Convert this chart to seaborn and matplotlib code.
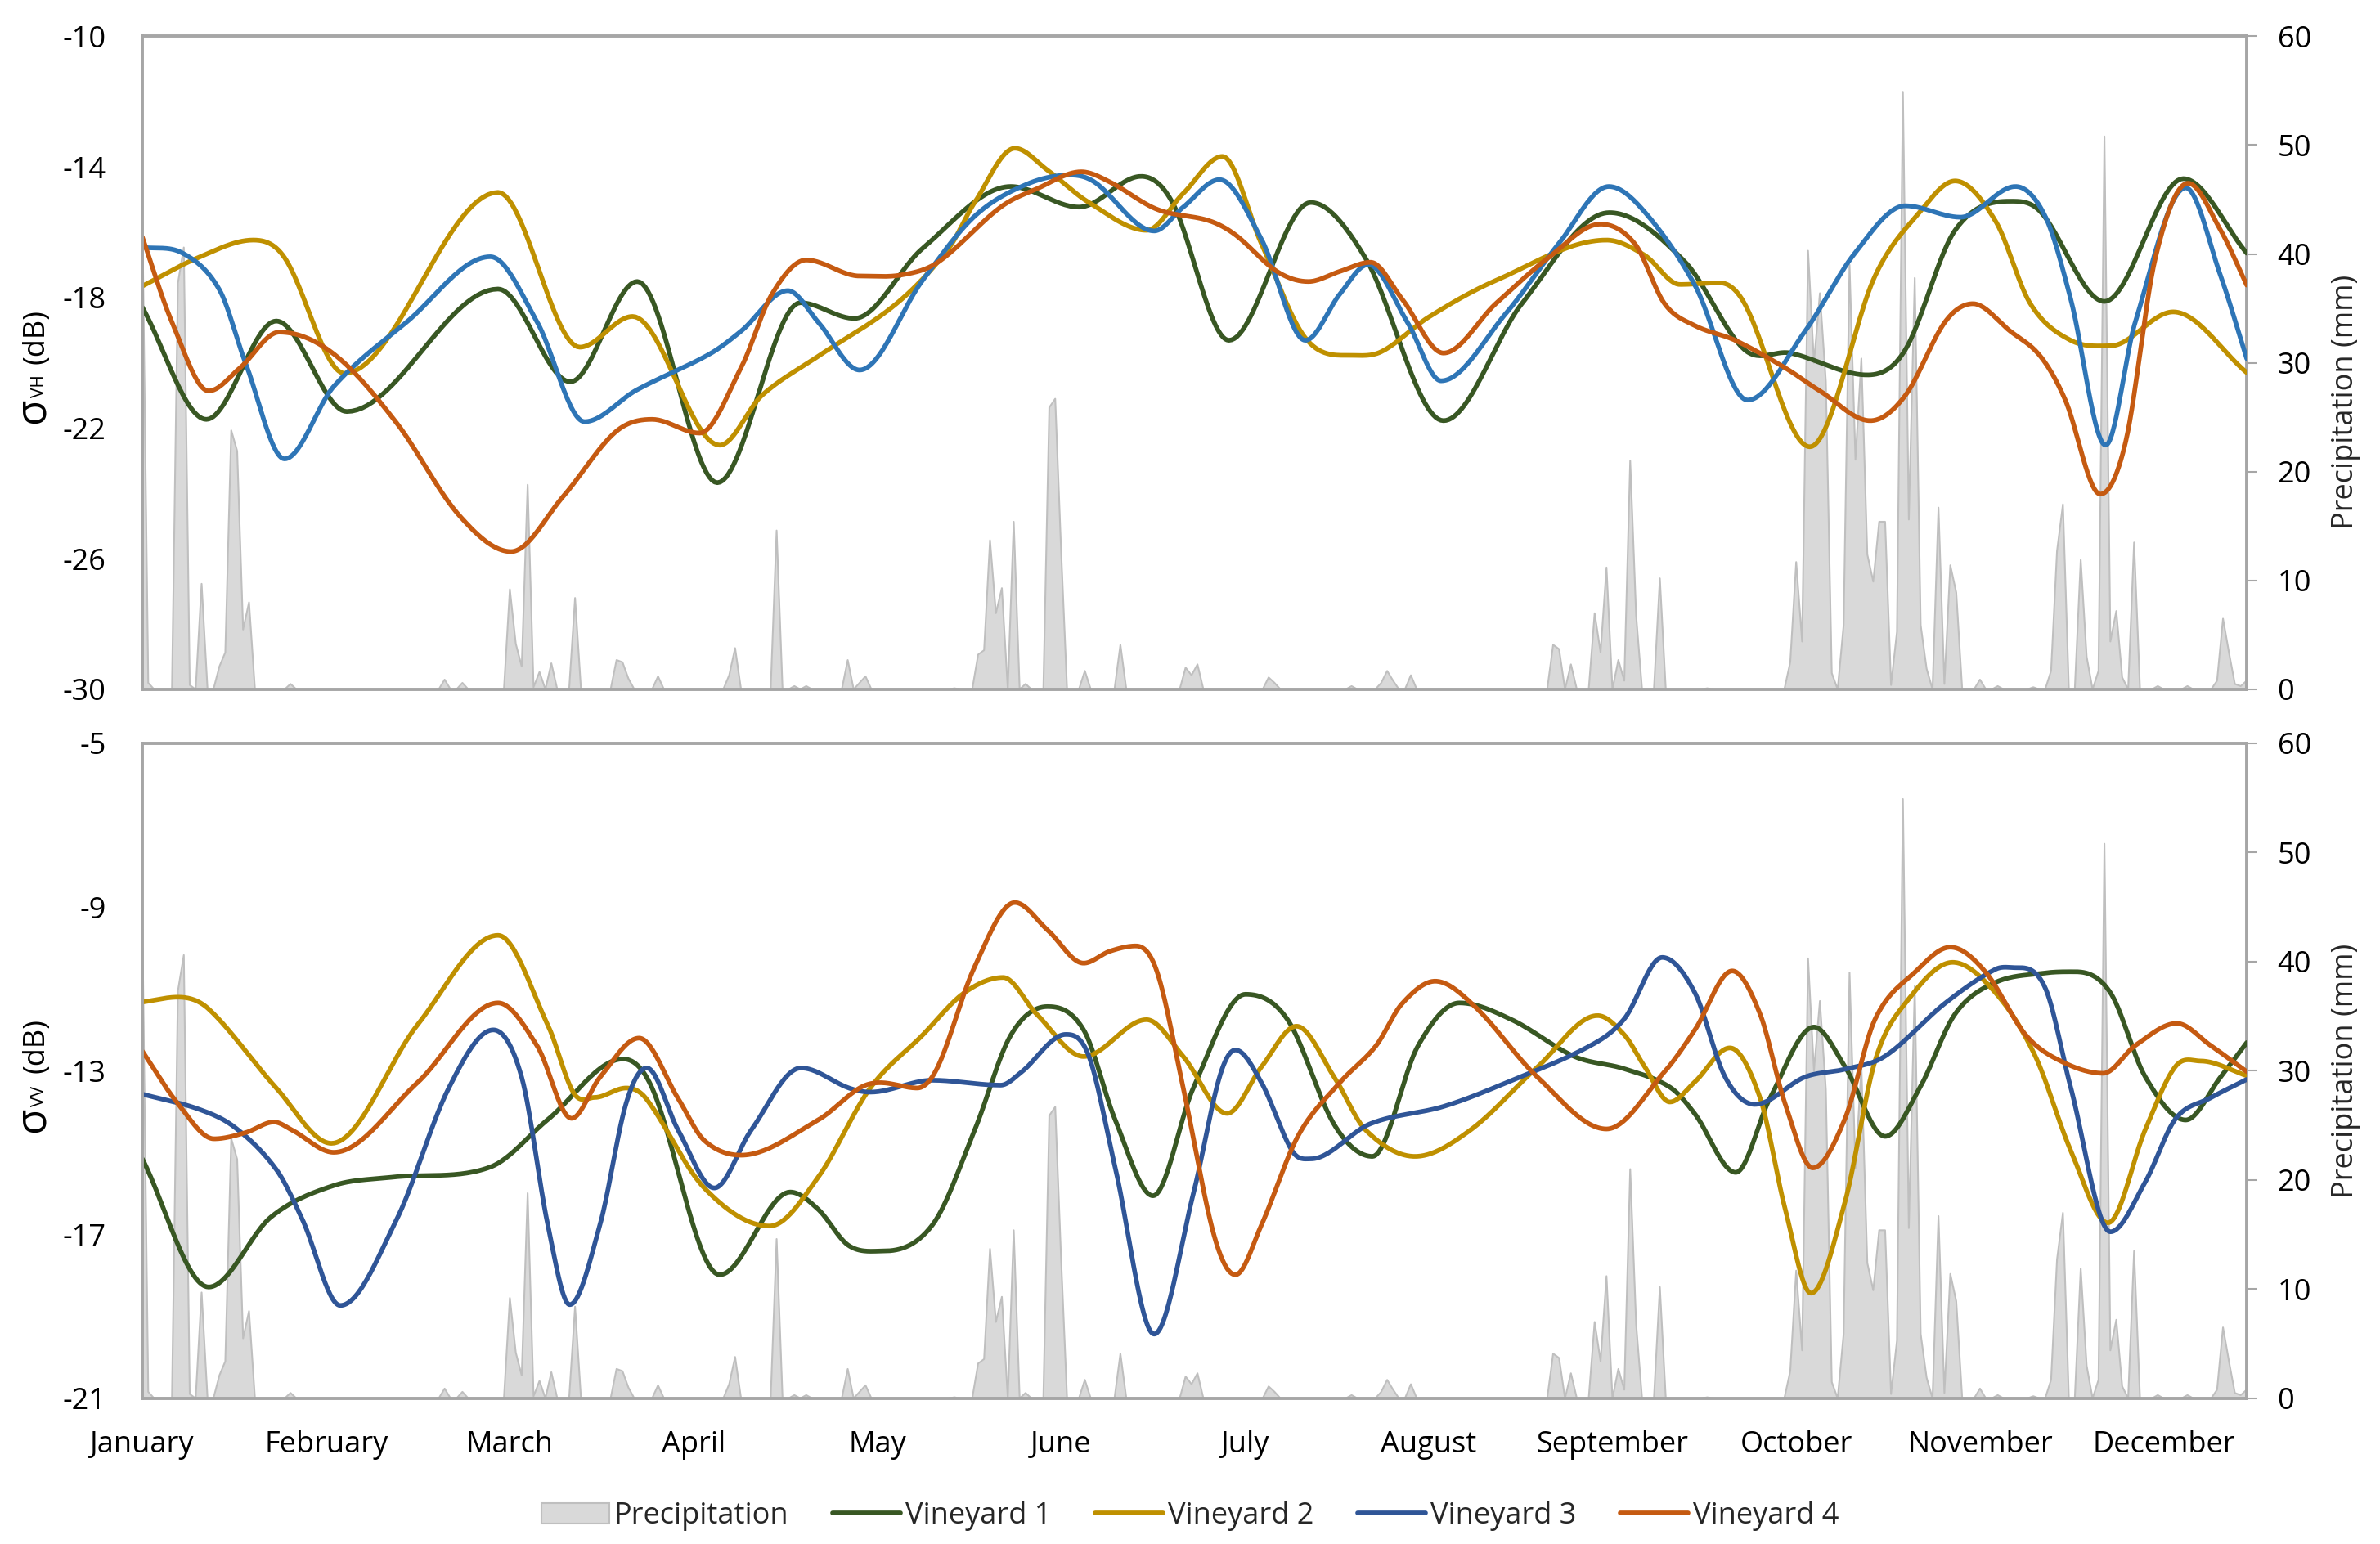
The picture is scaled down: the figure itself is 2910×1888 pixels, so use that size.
import numpy as np
import pandas as pd
import seaborn as sns
import matplotlib.pyplot as plt
from matplotlib.patches import Patch
from matplotlib.lines import Line2D

months = ['January', 'February', 'March', 'April', 'May', 'June', 'July',
          'August', 'September', 'October', 'November', 'December']
month_pos = [0, 31, 62, 93, 124, 155, 186, 217, 248, 279, 310, 341]
n_days = 356

# daily precipitation (mm), days without rain are zero
rain_days = [0, 1, 6, 7, 8, 10, 13, 14, 15, 16, 17, 18, 25, 51, 54,
             62, 63, 64, 65, 66, 67, 69, 73, 80, 81, 82, 87, 99, 100, 107, 110, 112,
             119, 121, 122, 137, 141, 142, 143, 144, 145, 147, 149, 153, 154, 155,
             159, 165, 176, 177, 178, 190, 191, 204, 209, 210, 211, 214,
             238, 239, 241, 245, 246, 247, 249, 250, 251, 252, 256, 264,
             278, 279, 280, 281, 282, 283, 284, 285, 287, 288, 289, 290, 291, 292, 293, 294, 295,
             296, 297, 298, 299, 300, 301, 303, 304, 305, 306, 310, 313, 319,
             322, 323, 324, 327, 328, 330, 331, 332, 333, 334, 336, 340, 345,
             350, 351, 352, 353, 354, 355]
rain_mm = [44.0, 0.6, 37.3, 40.6, 0.4, 9.7, 2.1, 3.4, 23.8, 21.9, 5.5, 8.0, 0.5, 0.9, 0.6,
           9.2, 4.2, 2.1, 18.8, 0.2, 1.6, 2.4, 8.4, 2.7, 2.5, 1.0, 1.2, 1.3, 3.8, 14.6, 0.3, 0.3,
           2.7, 0.6, 1.2, 0.1, 3.2, 3.6, 13.7, 7.0, 9.3, 15.4, 0.5, 25.9, 26.7, 12.7,
           1.7, 4.1, 2.0, 1.3, 2.3, 1.1, 0.6, 0.3, 0.6, 1.7, 0.8, 1.3,
           4.1, 3.7, 2.3, 7.0, 3.4, 11.2, 2.7, 0.8, 21.0, 6.8, 10.2, 0.1,
           2.5, 11.7, 4.4, 40.3, 30.0, 36.4, 28.3, 1.5, 5.9, 39.0, 21.1, 30.4, 12.4, 9.9, 15.4, 15.4, 0.4,
           5.3, 54.9, 15.6, 37.8, 5.9, 1.9, 16.7, 0.5, 11.4, 8.9, 0.9, 0.3, 0.2,
           1.7, 12.7, 17.0, 11.9, 3.0, 1.7, 50.8, 4.4, 7.2, 1.1, 13.5, 0.3, 0.3,
           0.8, 6.5, 3.4, 0.5, 0.3, 0.8]

# sigma VH (dB), read at turning points of each curve
vh1_days = [0, 10.8, 22.6, 34.5, 60, 72.2, 83.5, 97, 111, 120.1, 131.6, 146.5, 158, 168.5,
            173.8, 183.3, 197.1, 206.3, 219.5, 232.7, 247.5, 260.2, 270.3, 278, 291, 297.4,
            305.8, 315.1, 320.2, 331, 344.3, 355]
vh1 = [-18.3, -21.73, -18.72, -21.49, -17.74, -20.58, -17.51, -23.67, -18.16, -18.64, -16.5,
       -14.6, -15.23, -14.29, -15.1, -19.31, -15.09, -16.78, -21.77, -18.19, -15.4, -16.9,
       -19.6, -19.7, -20.37, -19.6, -15.94, -15.05, -15.37, -18.12, -14.36, -16.64]

vh2_days = [0, 9.4, 18.7, 24, 34.1, 60, 73.8, 82.7, 97.4, 104.5, 114, 127.2, 136, 140.4,
            147.2, 152.7, 159.7, 169.4, 175.6, 182.2, 188.8, 196.2, 203.7, 209, 217, 228.3,
            247, 253.4, 259.4, 266.1, 270.3, 281.3, 292.3, 299.9, 305.8, 312.6, 318.5, 325.3,
            332, 342.6, 355]
vh2 = [-17.65, -16.78, -16.24, -16.78, -20.32, -14.78, -19.52, -18.58, -22.52, -21.0, -19.8,
       -18.19, -16.5, -15.09, -13.43, -14.1, -15.09, -15.94, -14.81, -13.68, -16.36, -19.24,
       -19.77, -19.66, -18.6, -17.48, -16.24, -16.7, -17.6, -17.55, -18.19, -22.57, -17.34,
       -15.37, -14.43, -15.65, -18.19, -19.31, -19.48, -18.44, -20.3]

vh3_days = [0, 6.8, 13, 17.4, 24, 32.3, 44.6, 58.7, 66.6, 74.6, 83.4, 95.7, 101, 108.9, 114,
            121, 131.6, 140.4, 149.2, 156.6, 160.6, 170.7, 175.6, 181.7, 188.8, 196.2, 202,
            206.8, 213.4, 219.1, 230.1, 238.9, 247.4, 253.4, 261.9, 270.8, 280.5, 288.9,
            297.4, 306.7, 316, 321, 325.3, 331.2, 336.2, 344.7, 350.6, 355]
vh3 = [-16.46, -16.64, -17.76, -20.0, -22.94, -20.72, -18.75, -16.75, -18.75, -21.8, -20.83,
       -19.73, -19.03, -17.79, -18.75, -20.22, -17.48, -15.51, -14.53, -14.25, -14.46, -15.96,
       -15.23, -14.39, -16.22, -19.31, -17.9, -16.99, -18.75, -20.55, -18.47, -16.36, -14.6,
       -15.37, -17.62, -21.14, -19.03, -16.64, -15.19, -15.54, -14.6, -15.51, -18.04, -22.52,
       -18.75, -14.64, -17.34, -19.87]

vh4_days = [0, 5, 11.2, 16.5, 23.1, 32.3, 42.9, 53.4, 62.2, 71, 79.8, 86, 94, 101, 106.2, 112,
            121, 128, 134.2, 144.8, 150.9, 158.4, 163.2, 171.2, 180, 184.4, 191.4, 196.7, 202,
            207.2, 212.5, 219.5, 228.3, 237.2, 246, 251.8, 256.8, 261.9, 268.7, 277.1, 283,
            291.5, 297.4, 304.1, 308.8, 315.1, 320.2, 324.4, 330.3, 334.6, 339.6, 345.1,
            350.6, 355]
vh4 = [-16.15, -18.75, -20.86, -20.15, -19.06, -19.73, -21.84, -24.66, -25.78, -24.09, -22.12,
       -21.73, -22.15, -20.15, -17.9, -16.85, -17.34, -17.31, -16.92, -15.23, -14.67, -14.15,
       -14.46, -15.3, -15.65, -16.08, -17.2, -17.51, -17.2, -16.92, -18.04, -19.7, -18.19,
       -16.78, -15.75, -16.36, -18.19, -18.86, -19.31, -20.15, -20.86, -21.77, -21.0, -18.75,
       -18.19, -19.03, -19.8, -21.14, -24.02, -22.4, -16.78, -14.5, -15.94, -17.62]

# sigma VV (dB)
vv1_days = [0, 11.2, 21.7, 32.3, 42, 58.7, 68.4, 81.1, 86, 97.4, 109.3, 114, 119.2, 125,
            133.3, 140.4, 146.5, 152.7, 158.8, 164.1, 170.5, 177.3, 186.1, 193.2, 201.1,
            207.5, 215.2, 222.2, 231, 241.6, 250, 257.7, 261.9, 268.8, 274.6, 282, 287.2, 294,
            299.9, 305.8, 312.6, 321, 326.1, 332, 337.9, 344.7, 350.6, 355]
vv1 = [-15.15, -18.28, -16.57, -15.8, -15.6, -15.35, -14.19, -12.71, -13.42, -17.98, -15.96,
       -16.38, -17.27, -17.4, -16.76, -14.45, -12.13, -11.43, -12.0, -14.19, -16.05, -13.42,
       -11.13, -11.75, -14.32, -15.09, -12.39, -11.34, -11.75, -12.65, -12.95, -13.4, -14.05,
       -15.48, -13.66, -11.93, -12.89, -14.6, -13.4, -11.61, -10.84, -10.61, -10.58, -11.09,
       -13.15, -14.2, -13.15, -12.31]

vv2_days = [0, 6, 11.2, 22.6, 31.9, 46.4, 60, 68.4, 72.8, 76.3, 81.6, 85, 94.8, 105.8, 114,
            122.8, 131.6, 138.6, 145.2, 150.9, 158.8, 169.4, 175.6, 183, 188.8, 194.7, 201.1,
            206.4, 214.7, 224, 235.4, 245.5, 250, 253.4, 257.7, 261.9, 267.8, 272.9, 277.1,
            281.5, 287.2, 292.3, 297.4, 305.4, 312.6, 319.3, 325.3, 331.6, 337.9, 343, 347.2, 355]
vv2 = [-11.32, -11.2, -11.49, -13.42, -14.77, -11.88, -9.69, -11.88, -13.55, -13.65, -13.42,
       -13.68, -15.86, -16.79, -15.6, -13.42, -12.13, -11.1, -10.72, -11.62, -12.65, -11.75,
       -12.65, -14.04, -12.9, -11.91, -13.16, -14.45, -15.09, -14.45, -12.9, -11.65, -12.12,
       -12.89, -13.76, -13.27, -12.44, -13.66, -16.35, -18.43, -16.22, -12.76, -11.35,
       -10.35, -11.09, -12.63, -14.94, -16.71, -14.43, -12.89, -12.76, -13.12]

vv3_days = [0, 9.4, 15.6, 22.6, 27, 33.4, 42.9, 51.7, 59.2, 64, 68.4, 72.1, 77.2, 81.6, 85.1,
            90.4, 96.5, 102.7, 111.1, 119.2, 122.8, 133.3, 144.8, 148.3, 155.8, 159.7, 164.1,
            170.7, 177.3, 181.7, 184.4, 188.8, 194, 197.1, 207.2, 219.5, 230.1, 244.2, 250,
            256.4, 261.9, 267, 272, 280.5, 287.2, 294, 304.1, 312.6, 316, 321, 325.3, 332,
            337.9, 343, 348.9, 355]
vv3 = [-13.57, -13.93, -14.38, -15.41, -16.63, -18.73, -16.63, -13.42, -12.0, -13.16, -16.76,
       -18.71, -16.76, -13.8, -12.93, -14.45, -15.86, -14.45, -12.93, -13.42, -13.52, -13.23,
       -13.35, -13.03, -12.11, -12.65, -15.35, -19.43, -16.0, -13.16, -12.49, -13.29, -14.96,
       -15.15, -14.29, -13.87, -13.29, -12.39, -11.73, -10.23, -11.09, -13.15, -13.82,
       -13.15, -12.96, -12.64, -11.35, -10.52, -10.48, -10.97, -13.4, -16.93, -15.71,
       -14.17, -13.66, -13.21]

vv4_days = [0, 6, 12.1, 17.4, 22.2, 25.3, 32.3, 46.4, 60, 66.6, 72.4, 77.2, 83.8, 90.4, 94.8,
            101, 114, 121, 124.5, 130.7, 134.2, 140.4, 147.2, 152.7, 158.8, 163.2, 167.6,
            171.2, 175.6, 180.8, 184.4, 188.8, 195, 202, 208.1, 212.5, 218.1, 224.8, 235.4,
            247, 256.8, 261.9, 268.2, 272.9, 277.1, 281.8, 287.2, 292.3, 299.1, 305, 310.9,
            317.7, 323.6, 330.8, 336.2, 343.2, 348.9, 355]
vv4 = [-12.52, -13.8, -14.66, -14.51, -14.25, -14.45, -14.99, -13.29, -11.34, -12.39, -14.16,
       -13.16, -12.2, -13.68, -14.7, -15.06, -14.2, -13.42, -13.29, -13.42, -12.9, -10.46,
       -8.89, -9.56, -10.37, -10.08, -9.95, -10.59, -13.42, -17.02, -17.98, -16.76, -14.58,
       -13.29, -12.39, -11.36, -10.81, -11.43, -13.16, -14.42, -13.02, -12.0, -10.56,
       -11.61, -13.79, -15.37, -14.18, -11.74, -10.58, -9.98, -10.58, -12.12, -12.76,
       -13.06, -12.38, -11.84, -12.38, -13.02]

names = ['Vineyard 1', 'Vineyard 2', 'Vineyard 3', 'Vineyard 4']
green, gold, orange = '#385723', '#BF9000', '#C55A11'
blue_vh, blue_vv = '#2E75B6', '#2F5597'
grid_grey = '#A6A6A6'
FS = 26
LW = 4.1


def smooth(xs, ys, n=30):
    # Excel-like smoothed line: cubic Hermite through the read points
    xs = np.asarray(xs, float)
    ys = np.asarray(ys, float)
    m = np.zeros_like(ys)
    m[1:-1] = (ys[2:] - ys[:-2]) / (xs[2:] - xs[:-2])
    m[0] = (ys[1] - ys[0]) / (xs[1] - xs[0])
    m[-1] = (ys[-1] - ys[-2]) / (xs[-1] - xs[-2])
    turn = (ys[1:-1] - ys[:-2]) * (ys[2:] - ys[1:-1]) <= 0
    m[1:-1][turn] = 0
    out_x, out_y = [], []
    for i in range(len(xs) - 1):
        h = xs[i + 1] - xs[i]
        t = np.linspace(0, 1, n, endpoint=False)
        h00 = 2 * t**3 - 3 * t**2 + 1
        h10 = t**3 - 2 * t**2 + t
        h01 = -2 * t**3 + 3 * t**2
        h11 = t**3 - t**2
        out_x.append(xs[i] + t * h)
        out_y.append(h00 * ys[i] + h10 * h * m[i] + h01 * ys[i + 1] + h11 * h * m[i + 1])
    out_x.append([xs[-1]])
    out_y.append([ys[-1]])
    return np.concatenate(out_x), np.concatenate(out_y)


def sigma_label(fig, pol, y_bottom_px):
    # big sigma, small polarisation letters, then "(dB)", stacked upwards
    W, H = 2910, 1888
    x = 53.5 / W
    parts = [('σ', 37, 0), (pol, 15, 32), ('(dB)', FS, 73)]
    for s, size, off in parts:
        fig.text(x, (H - y_bottom_px + off) / H, s, fontsize=size, rotation=90,
                 rotation_mode='anchor', ha='left', va='baseline', color='black')


sns.set_theme(style='white')
plt.rcParams['font.family'] = ['Open Sans', 'DejaVu Sans']
plt.rcParams['axes.unicode_minus'] = False

precip = np.zeros(n_days)
precip[rain_days] = rain_mm
precip_df = pd.DataFrame({'day': np.arange(n_days), 'mm': precip})

fig = plt.figure(figsize=(29.1, 18.88), dpi=100)
ax_top = fig.add_axes([0.0598, 0.5535, 0.8842, 0.4230])
ax_bot = fig.add_axes([0.0598, 0.0943, 0.8842, 0.4243])

panels = [
    (ax_top, [(vh1_days, vh1), (vh2_days, vh2), (vh3_days, vh3), (vh4_days, vh4)],
     [green, gold, blue_vh, orange], (-30, -10), 'VH', 518, 0.44),
    (ax_bot, [(vv1_days, vv1), (vv2_days, vv2), (vv3_days, vv3), (vv4_days, vv4)],
     [green, gold, blue_vv, orange], (-21, -5), 'VV', 1385, 0.5),
]

for ax, series, colors, ylim, pol, lab_px, rlab_y in panels:
    ax2 = ax.twinx()
    ax2.fill_between(precip_df['day'], 0, precip_df['mm'], color='#D9D9D9', lw=0)
    sns.lineplot(data=precip_df, x='day', y='mm', ax=ax2, color='#BFBFBF', lw=1.5,
                 estimator=None)
    ax2.set_ylim(0, 60)
    ax2.set_yticks(range(0, 61, 10))
    ax2.set_ylabel('Precipitation (mm)', fontsize=FS)
    ax2.yaxis.set_label_coords(1.040, rlab_y)
    ax2.tick_params(axis='y', right=True, length=9, width=1.5, color=grid_grey,
                    labelsize=FS, pad=18, labelcolor='black')
    for s in ['left', 'top', 'bottom']:
        ax2.spines[s].set_visible(False)
    ax2.spines['right'].set_color(grid_grey)
    ax2.spines['right'].set_linewidth(2.8)

    ax.set_zorder(ax2.get_zorder() + 1)
    ax.patch.set_visible(False)
    for (d, v), c in zip(series, colors):
        sx, sy = smooth(d, v)
        sns.lineplot(x=sx, y=sy, ax=ax, color=c, lw=LW, estimator=None, sort=False)
    ax.set_ylim(*ylim)
    ax.set_yticks(np.arange(ylim[0], ylim[1] + 1, 4))
    ax.set_xlim(0, n_days - 1)
    ax.set_ylabel('')
    sigma_label(fig, pol, lab_px)
    ax.tick_params(axis='y', left=False, labelsize=FS, pad=26, labelcolor='black')
    ax.spines['right'].set_visible(False)
    for s in ['left', 'top', 'bottom']:
        ax.spines[s].set_color(grid_grey)
        ax.spines[s].set_linewidth(2.8)
    ax.set_xlabel('')
    ax.set_xticks(month_pos)
    if ax is ax_bot:
        ax.set_xticklabels(months, fontsize=FS)
        ax.tick_params(axis='x', bottom=False, pad=22, labelcolor='black')
    else:
        ax.set_xticklabels([])
        ax.tick_params(axis='x', bottom=False)

handles = [Patch(facecolor='#D9D9D9', edgecolor='#BFBFBF', lw=1.5)]
handles += [Line2D([], [], color=c, lw=LW) for c in [green, gold, blue_vv, orange]]
fig.legend(handles, ['Precipitation'] + names, loc='center', ncol=5,
           bbox_to_anchor=(0.5, 1 - 1854 / 1888), frameon=False, fontsize=FS,
           handlelength=2.3, handletextpad=0.15, columnspacing=1.5)

fig.savefig('out.png', dpi=100)
